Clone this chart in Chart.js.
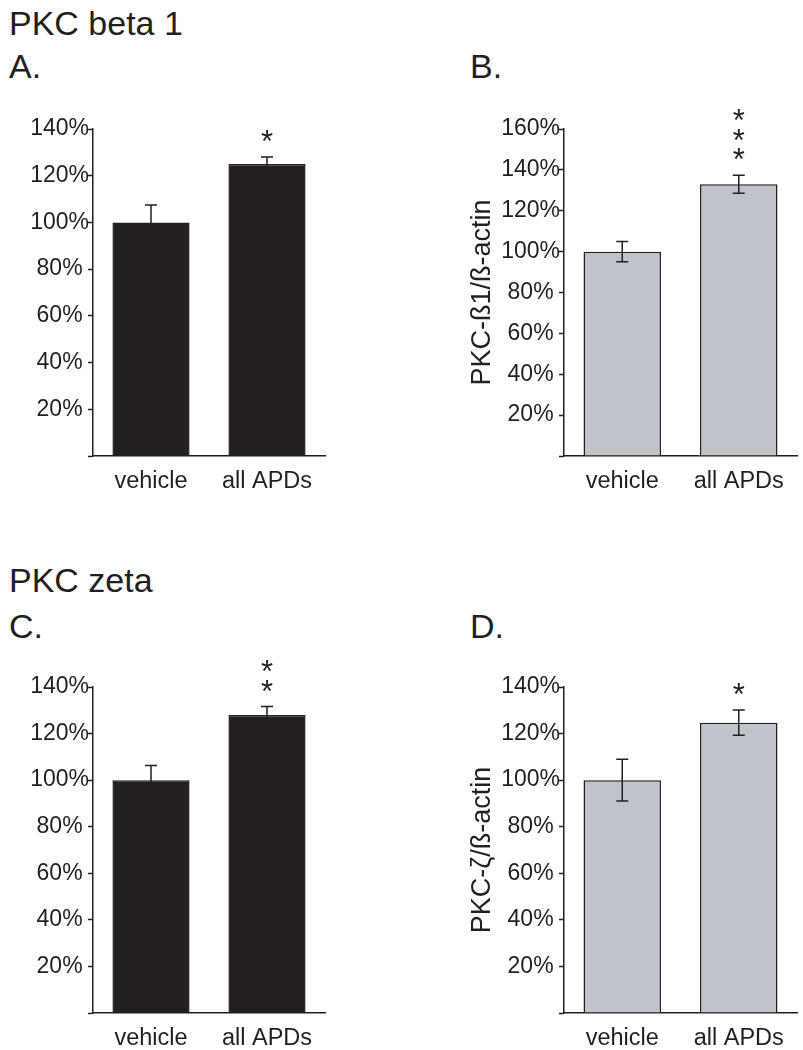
<!DOCTYPE html>
<html>
<head>
<meta charset="utf-8">
<script src="https://cdn.jsdelivr.net/npm/chart.js@4.4.1/dist/chart.umd.min.js"></script>
<style>
  body { margin: 0; background: #fff; width: 803px; height: 1050px; overflow: hidden; position: relative;
         font-family: "Liberation Sans", Arial, sans-serif; color: #231f20; }
  .lbl { position: absolute; font-size: 34px; line-height: 34px; white-space: nowrap; }
  canvas { position: absolute; }
</style>
</head>
<body>
<div class="lbl" style="left:9px;top:6px">PKC beta 1</div>
<div class="lbl" style="left:9px;top:49px">A.</div>
<div class="lbl" style="left:470px;top:49px">B.</div>
<div class="lbl" style="left:9px;top:563px">PKC zeta</div>
<div class="lbl" style="left:9px;top:609px">C.</div>
<div class="lbl" style="left:470px;top:609px">D.</div>

<canvas id="chartA" width="340" height="400" style="left:0;top:100px"></canvas>
<canvas id="chartB" width="350" height="400" style="left:450px;top:100px"></canvas>
<canvas id="chartC" width="340" height="392" style="left:0;top:658px"></canvas>
<canvas id="chartD" width="350" height="392" style="left:450px;top:658px"></canvas>

<script>
// 値は図から目で読んだもの (% of vehicle)
const categories = ['vehicle', 'all APDs'];

const beta1A = [100, 125];
const beta1AErr = [7.5, 3];
const beta1B = [100, 133];
const beta1BErr = [5, 4.4];

const zetaC = [100, 128];
const zetaCErr = [6.3, 3.6];
const zetaD = [100, 124.7];
const zetaDErr = [9, 5.4];

// 有意差マーク
const starsA = ['', '*'];
const starsB = ['', '***'];
const starsC = ['', '**'];
const starsD = ['', '*'];

const ink = '#231f20';
const grayFill = '#c0c3ca';
const font = '"Liberation Sans", Arial, sans-serif';

// エラーバーとアスタリスク
const errorBars = {
    id: 'errorBars',
    afterDatasetsDraw(chart, args, opts) {
        const { ctx } = chart;
        const y = chart.scales.y;
        const values = chart.data.datasets[0].data;
        const meta = chart.getDatasetMeta(0);
        ctx.save();
        ctx.strokeStyle = ink;
        ctx.lineWidth = 1.5;
        meta.data.forEach((bar, i) => {
            const v = values[i], e = opts.errors[i];
            const cx = bar.x;
            const top = y.getPixelForValue(v + e);
            const bot = y.getPixelForValue(v - e);
            ctx.beginPath();
            ctx.moveTo(cx, top); ctx.lineTo(cx, bot);
            ctx.moveTo(cx - 6, top); ctx.lineTo(cx + 6, top);
            ctx.moveTo(cx - 6, bot); ctx.lineTo(cx + 6, bot);
            ctx.stroke();

            const s = opts.stars[i] || '';
            ctx.fillStyle = ink;
            ctx.font = '31px ' + font;
            ctx.textAlign = 'center';
            ctx.textBaseline = 'alphabetic';
            for (let k = 0; k < s.length; k++) {
                const centerY = top - 23 - k * 19.5;
                ctx.fillText('*', cx, centerY + 0.58 * 31);
            }
        });
        ctx.restore();
    }
};

function makeChart(id, values, errors, stars, opt) {
    const ctx = document.getElementById(id).getContext('2d');
    return new Chart(ctx, {
        type: 'bar',
        data: {
            labels: categories,
            datasets: [{
                data: values,
                backgroundColor: opt.fill,
                borderColor: ink,
                borderWidth: 1.5,
                barPercentage: 0.665,
                categoryPercentage: 1
            }]
        },
        options: {
            responsive: false,
            animation: false,
            layout: { padding: { top: 29, right: opt.right, left: 0, bottom: 0 } },
            scales: {
                x: {
                    grid: { display: false },
                    border: { display: true, color: ink, width: 1.5 },
                    ticks: { color: ink, font: { family: font, size: 23.5 }, padding: 3 },
                    afterFit: (scale) => { scale.height = opt.xHeight; }
                },
                y: {
                    min: 0,
                    max: opt.max,
                    grid: { drawOnChartArea: false, drawTicks: true, tickLength: 5, tickColor: ink, tickWidth: 1.5 },
                    border: { display: true, color: ink, width: 1.5 },
                    ticks: {
                        stepSize: 20,
                        color: ink,
                        crossAlign: 'center',
                        padding: -1,
                        font: { family: font, size: 23 },
                        callback: (v) => v === 0 ? '' : v + '%'
                    },
                    title: opt.title ? {
                        display: true,
                        text: opt.title,
                        color: ink,
                        font: { family: font, size: 27 },
                        padding: { top: 16, bottom: 0 }
                    } : { display: false },
                    afterFit: (scale) => { scale.width = opt.yWidth; }
                }
            },
            plugins: {
                legend: { display: false },
                tooltip: { enabled: false },
                errorBars: { errors: errors, stars: stars }
            }
        },
        plugins: [errorBars]
    });
}

makeChart('chartA', beta1A, beta1AErr, starsA, { fill: ink, max: 140, right: 15, yWidth: 93, xHeight: 44 });
makeChart('chartB', beta1B, beta1BErr, starsB, { fill: grayFill, max: 160, right: 3, yWidth: 114, xHeight: 44, title: 'PKC-ß1/ß-actin' });
makeChart('chartC', zetaC, zetaCErr, starsC, { fill: ink, max: 140, right: 15, yWidth: 93, xHeight: 37 });
makeChart('chartD', zetaD, zetaDErr, starsD, { fill: grayFill, max: 140, right: 3, yWidth: 114, xHeight: 37, title: 'PKC-ζ/ß-actin' });
</script>
</body>
</html>
